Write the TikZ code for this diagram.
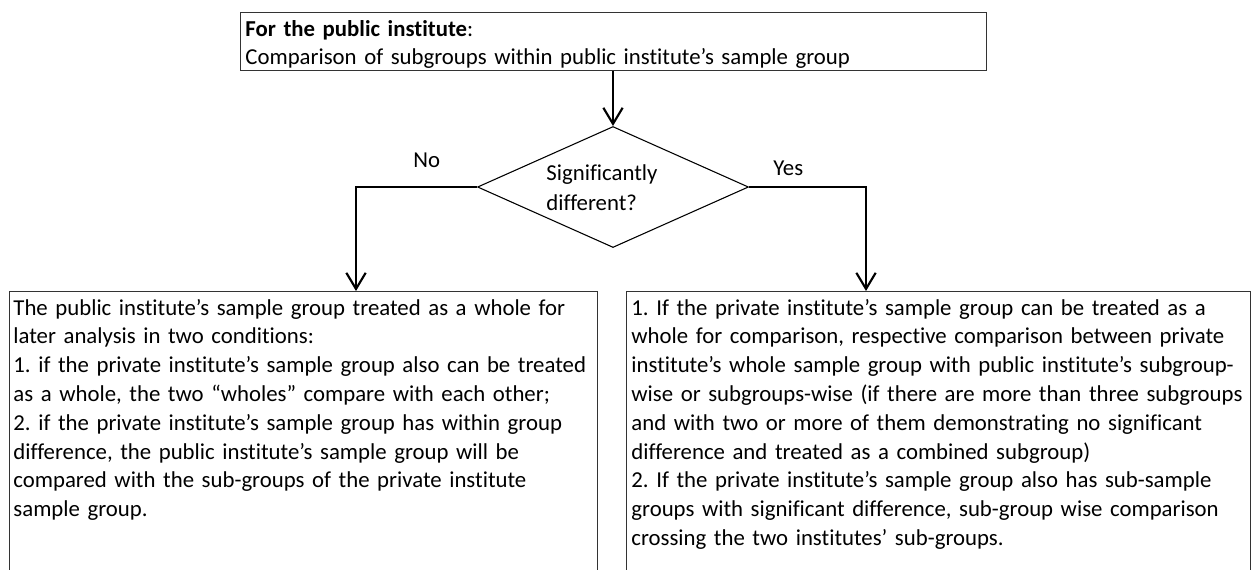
\documentclass[tikz,border=0pt]{standalone}
\usepackage{fontspec}
\setmainfont{Carlito}[Ligatures={NoCommon}]
\usepackage{tikz}
\usetikzlibrary{arrows.meta,positioning,shapes.geometric}

\tikzset{
  box/.style={draw=black!80, line width=0.5pt, inner sep=0pt},
  flow/.style={line width=1pt, -{Straight Barb[length=7.5pt, width=9pt]}},
  txt/.style={inner sep=0pt, anchor=base west, align=left, font=\fontsize{10.6}{13.4}\selectfont},
}

\begin{document}
\frenchspacing
\begin{tikzpicture}[x=0.4653pt, y=-0.4653pt]
        \clip (0,0) rectangle (1252,569);

        % Top box
        \node[box, anchor=north west, minimum width=347.1pt, minimum height=27pt] (topbox) at (240,12) {};
        \node[txt, text width=340pt] (toptxt) at (245,36) {\textbf{For the public institute}:\\
          Comparison of subgroups within public institute’s sample group};

        % Decision
        \node[draw, diamond, aspect=2.24, inner sep=0pt, line width=0.5pt,
              minimum width=126.1pt, minimum height=56.3pt] (dec) at (613,187) {};
        \node[txt, text width=70pt, font=\fontsize{10.6}{14}\selectfont] (dectxt) at (546,180) {Significantly\\different?};

        % Result boxes
        \node[box, anchor=north west, minimum width=273.6pt, minimum height=153pt] (lbox) at (9,291) {};
        \node[box, anchor=north west, minimum width=290.3pt, minimum height=153pt] (rbox) at (626,291) {};

        \node[txt, text width=290pt] (ltxt) at (13,315) {The public institute’s sample group treated as a whole for\\
          later analysis in two conditions:\\
          1. if the private institute’s sample group also can be treated\\
          as a whole, the two “wholes” compare with each other;\\
          2. if the private institute’s sample group has within group\\
          difference, the public institute’s sample group will be\\
          compared with the sub-groups of the private institute\\
          sample group.};
        \node[txt, text width=300pt] (rtxt) at (631,315) {1. If the private institute’s sample group can be treated as a\\
          whole for comparison, respective comparison between private\\
          institute’s whole sample group with public institute’s subgroup-\\
          wise or subgroups-wise (if there are more than three subgroups\\
          and with two or more of them demonstrating no significant\\
          difference and treated as a combined subgroup)\\
          2. If the private institute’s sample group also has sub-sample\\
          groups with significant difference, sub-group wise comparison\\
          crossing the two institutes’ sub-groups.};

        % Connectors
        \coordinate (nobend) at (356,187);
        \coordinate (yesbend) at (866,187);
        \draw[flow] (topbox.south -| dec.north) -- (dec.north);
        \draw[flow] (dec.west) -- (nobend) -- (nobend |- lbox.north);
        \draw[flow] (dec.east) -- (yesbend) -- (yesbend |- rbox.north);

        \node[txt] (no) at (413,167) {No};
        \node[txt] (yes) at (773,175) {Yes};
    \end{tikzpicture}
\end{document}
